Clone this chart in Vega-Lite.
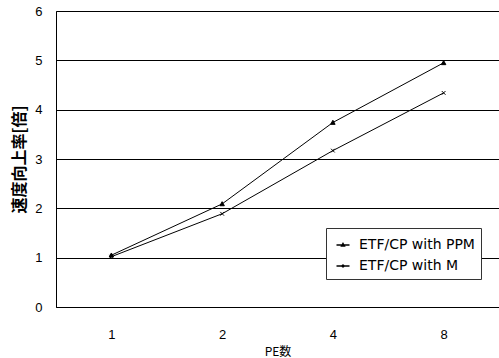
{
  "$schema": "https://vega.github.io/schema/vega-lite/v6.json",
  "width": 443,
  "height": 296,
  "autosize": {"type": "none"},
  "padding": {"left": 56, "top": 11, "right": 0, "bottom": 51},
  "background": "white",
  "config": {
    "view": {"stroke": "#666", "strokeWidth": 1},
    "font": "Liberation Sans"
  },
  "data": {
    "values": [
      {"PE": "1", "series": "ETF/CP with PPM", "speedup": 1.05},
      {"PE": "2", "series": "ETF/CP with PPM", "speedup": 2.09},
      {"PE": "4", "series": "ETF/CP with PPM", "speedup": 3.74},
      {"PE": "8", "series": "ETF/CP with PPM", "speedup": 4.95},
      {"PE": "1", "series": "ETF/CP with M", "speedup": 1.02},
      {"PE": "2", "series": "ETF/CP with M", "speedup": 1.89},
      {"PE": "4", "series": "ETF/CP with M", "speedup": 3.17},
      {"PE": "8", "series": "ETF/CP with M", "speedup": 4.34}
    ]
  },
  "encoding": {
    "x": {
      "field": "PE",
      "type": "ordinal",
      "sort": ["1", "2", "4", "8"],
      "scale": {"type": "point", "padding": 0.5},
      "axis": {
        "title": "PE数",
        "titleFont": "Noto Sans CJK JP",
        "titleFontSize": 12,
        "titleFontWeight": "normal",
        "titleColor": "#000",
        "titlePadding": 5,
        "labelAngle": 0,
        "labelFontSize": 13,
        "labelColor": "#000",
        "labelPadding": 21,
        "ticks": false,
        "domainColor": "#000",
        "domainWidth": 1,
        "grid": false
      }
    },
    "y": {
      "field": "speedup",
      "type": "quantitative",
      "scale": {"domain": [0, 6]},
      "axis": {
        "title": "速度向上率[倍]",
        "titleFont": "Noto Sans CJK JP",
        "titleFontSize": 16,
        "titleFontWeight": "bold",
        "titleColor": "#000",
        "titlePadding": 7,
        "values": [0, 1, 2, 3, 4, 5, 6],
        "labelFontSize": 13,
        "labelColor": "#000",
        "labelPadding": 14,
        "ticks": false,
        "domainColor": "#000",
        "domainWidth": 1,
        "grid": true,
        "gridColor": "#000",
        "gridWidth": 1,
        "gridOpacity": 1
      }
    }
  },
  "layer": [
    {
      "mark": {"type": "line", "color": "#000", "strokeWidth": 1},
      "encoding": {"detail": {"field": "series"}}
    },
    {
      "transform": [{"filter": "datum.series == 'ETF/CP with PPM'"}],
      "mark": {"type": "point", "shape": "M0,-0.6L0.6,0.5L-0.6,0.5Z", "filled": true, "fill": "#000", "stroke": "#000", "strokeWidth": 1, "opacity": 1, "size": 55}
    },
    {
      "transform": [{"filter": "datum.series == 'ETF/CP with M'"}],
      "mark": {"type": "point", "shape": "M-0.5,-0.5L0.5,0.5M-0.5,0.5L0.5,-0.5", "filled": false, "stroke": "#000", "strokeWidth": 1, "opacity": 1, "size": 55}
    },
    {
      "transform": [{"filter": "false"}],
      "mark": {"type": "point", "filled": true, "fill": "#000", "stroke": "#000", "strokeWidth": 1, "opacity": 1},
      "encoding": {
        "shape": {
          "field": "series",
          "type": "nominal",
          "scale": {
            "domain": ["ETF/CP with PPM", "ETF/CP with M"],
            "range": ["M-0.65,0L0.65,0M0,-0.15L0.14,0.1L-0.14,0.1Z", "M-0.65,0L0.65,0M-0.11,-0.11L0.11,0.11M-0.11,0.11L0.11,-0.11"]
          },
          "legend": {
            "title": null,
            "orient": "none",
            "legendX": 270,
            "legendY": 217,
            "padding": 6,
            "strokeColor": "#333",
            "fillColor": "white",
            "symbolSize": 400,
            "labelFont": "DejaVu Sans",
            "labelFontSize": 14,
            "labelColor": "#000",
            "labelOffset": 5,
            "rowPadding": 3,
            "encode": {
              "symbols": {
                "update": {
                  "stroke": {"value": "#000"},
                  "strokeWidth": {"value": 1},
                  "fill": {"value": "#000"},
                  "opacity": {"value": 1}
                }
              }
            }
          }
        }
      }
    }
  ]
}
